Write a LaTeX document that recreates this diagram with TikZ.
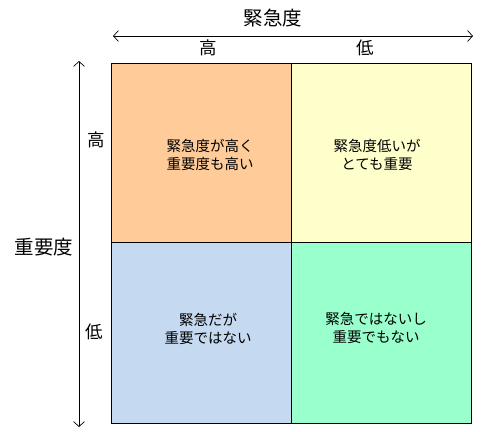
\documentclass[tikz,border=0pt]{standalone}
\usepackage{fontspec}
\setmainfont{Noto Sans CJK JP}
\usetikzlibrary{arrows.meta}
\begin{document}
\begin{tikzpicture}[x=1pt,y=-1pt,
  cell/.style={draw=black,line width=1pt},
  celltext/.style={font=\fontsize{14.5}{18}\selectfont,align=center,inner sep=0pt},
  axis/.style={line width=0.7pt,{Straight Barb[length=5pt,width=11pt]}-{Straight Barb[length=5pt,width=11pt]}},
  biglabel/.style={font=\fontsize{19.5}{22}\selectfont,inner sep=0pt},
  smalllabel/.style={font=\fontsize{17.5}{20}\selectfont,inner sep=0pt}]
\useasboundingbox (0,0) rectangle (481,431);
\definecolor{cOrange}{HTML}{FFCC99}
\definecolor{cYellow}{HTML}{FFFFCC}
\definecolor{cBlue}{HTML}{C5D9F1}
\definecolor{cGreen}{HTML}{99FFCC}
\filldraw[cell,fill=cOrange] (111,63) rectangle (291,242);
\filldraw[cell,fill=cYellow] (291,63) rectangle (471,242);
\filldraw[cell,fill=cBlue] (111,242) rectangle (291,423);
\filldraw[cell,fill=cGreen] (291,242) rectangle (471,423);
\node[celltext] (t1) at (210,155) {緊急度が高く\\重要度も高い};
\node[celltext] (t2) at (377,155) {緊急度低いが\\とても重要};
\node[celltext] (t3) at (208,329) {緊急だが\\重要ではない};
\node[celltext] (t4) at (376,328) {緊急ではないし\\重要でもない};
\coordinate (hl) at (113,36);
\coordinate (hr) at (473,36);
\coordinate (vt) at (79,61);
\coordinate (vb) at (79,427);
\draw[axis] (hl) -- (hr);
\draw[axis] (vt) -- (vb);
\node[biglabel] (urg) at (273,18) {緊急度};
\node[smalllabel] (uh) at (208,48) {高};
\node[smalllabel] (ul) at (365,48) {低};
\node[biglabel] (imp) at (44,247) {重要度};
\node[smalllabel] (ih) at (96,140) {高};
\node[smalllabel] (il) at (94,332) {低};
\end{tikzpicture}
\end{document}
